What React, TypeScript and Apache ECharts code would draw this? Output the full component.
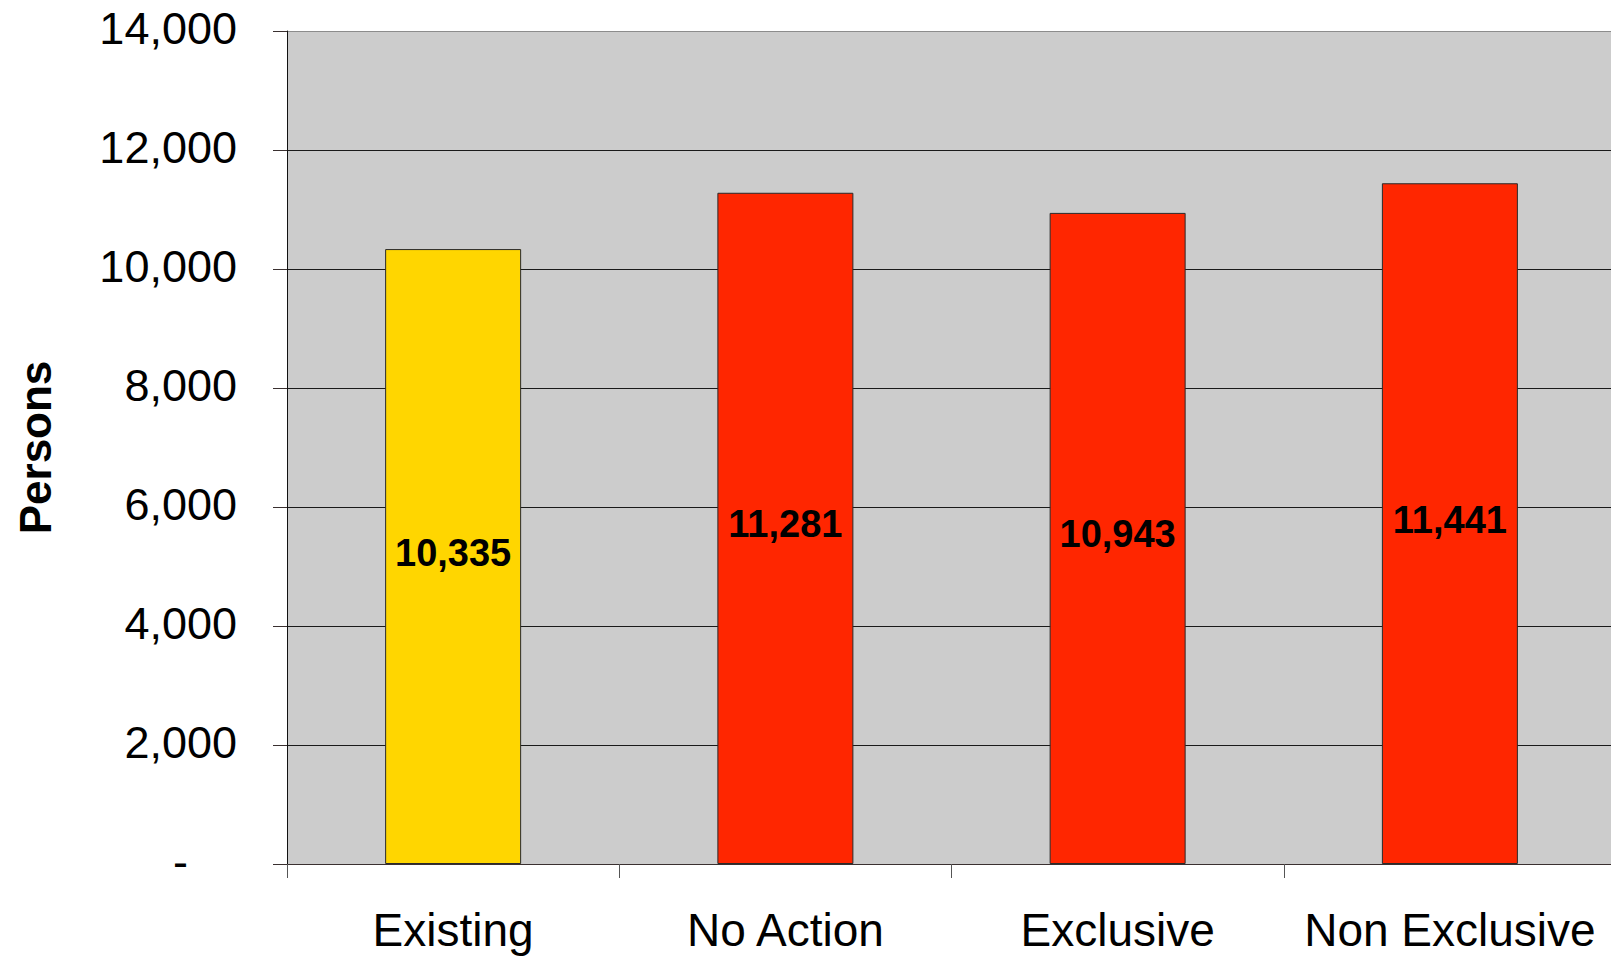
import React, { useEffect, useRef } from "react";
import * as echarts from "echarts";

const categories = ["Existing", "No Action", "Exclusive", "Non Exclusive"];
const values = [10335, 11281, 10943, 11441];
const barColors = ["#FFD600", "#FF2600", "#FF2600", "#FF2600"];
const yTicks = [0, 2000, 4000, 6000, 8000, 10000, 12000, 14000];
const yName = "Persons";

const FONT = "'Liberation Sans', Arial, sans-serif";

export default function App() {
  const ref = useRef<HTMLDivElement>(null);
  useEffect(() => {
    if (!ref.current) return;
    const chart = echarts.init(ref.current, null, { renderer: "svg" });
    const splitColors = yTicks.map((t, i) => (i === yTicks.length - 1 ? "#8c8c8c" : "#1a1a1a"));
    chart.setOption({
      animation: false,
      backgroundColor: "#ffffff",
      grid: {
        left: 287,
        top: 31,
        bottom: 93,
        right: 0,
        show: true,
        backgroundColor: "#cccccc",
        borderWidth: 0,
      },
      xAxis: {
        type: "category",
        data: categories,
        boundaryGap: true,
        axisLine: { show: true, lineStyle: { color: "#3a3030", width: 1 } },
        axisTick: { show: true, length: 14, alignWithLabel: false, lineStyle: { color: "#555", width: 1 } },
        axisLabel: {
          color: "#000",
          fontFamily: FONT,
          fontSize: 46,
          margin: 43,
          interval: 0,
        },
        splitLine: { show: false },
      },
      yAxis: {
        type: "value",
        min: 0,
        max: 14000,
        interval: 2000,
        name: yName,
        nameLocation: "middle",
        nameRotate: 90,
        nameGap: 230,
        nameTextStyle: {
          color: "#000",
          fontFamily: FONT,
          fontSize: 44,
          fontWeight: "bold",
        },
        axisLine: { show: true, lineStyle: { color: "#111", width: 1 } },
        axisTick: { show: true, length: 14, lineStyle: { color: "#3a3030", width: 1 } },
        axisLabel: {
          color: "#000",
          fontFamily: FONT,
          fontSize: 45,
          margin: 50,
          padding: [0, 0, 6, 0],
          formatter: (v: number) =>
            v === 0 ? "{z|-}" : v.toLocaleString("en-US"),
          rich: {
            z: {
              color: "#000",
              fontFamily: FONT,
              fontSize: 45,
              padding: [0, 49, 0, 0],
            },
          },
        },
        splitLine: { show: true, lineStyle: { color: splitColors, width: 1 } },
      },
      series: [
        {
          type: "bar",
          barWidth: 136,
          data: values.map((v, i) => ({
            value: v,
            itemStyle: { color: barColors[i] },
          })),
          itemStyle: { borderColor: "#2a2a2a", borderWidth: 1 },
          label: {
            show: true,
            position: "inside",
            offset: [0, -4],
            color: "#000",
            fontFamily: FONT,
            fontSize: 38,
            fontWeight: "bold",
            formatter: (p: any) => Number(p.value).toLocaleString("en-US"),
          },
        },
      ],
    });
    return () => chart.dispose();
  }, []);
  return (
    <div style={{ position: "fixed", left: 0, top: 0, width: 1611, height: 957, overflow: "hidden" }}>
      <div ref={ref} style={{ width: 1616, height: 957 }} />
    </div>
  );
}
